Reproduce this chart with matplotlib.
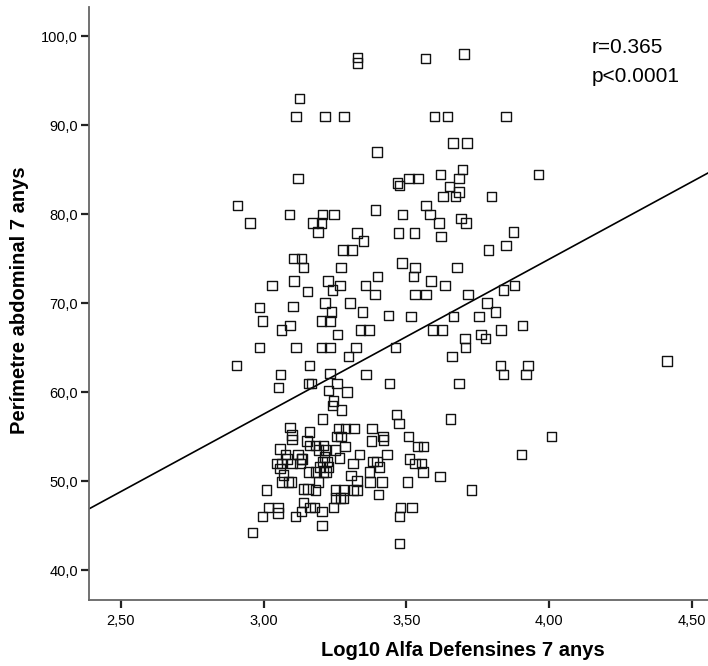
import matplotlib
matplotlib.use("Agg")
import matplotlib.pyplot as plt
import numpy as np
from matplotlib.ticker import FuncFormatter

plt.rcParams['font.family'] = ['Liberation Sans', 'DejaVu Sans']

# Data (Log10 alfa defensines vs waist perimeter)
upper_x = [3.329, 3.329, 3.567, 3.702, 3.125, 3.114, 3.215, 3.282, 3.599, 3.645,
           3.849, 3.664, 3.712, 3.397, 3.619, 3.696, 3.963, 3.121, 3.469, 3.476,
           3.509, 3.541, 3.684, 3.652, 3.684, 3.673, 3.628, 3.799, 2.908, 2.952,
           3.090, 3.206, 3.246, 3.173, 3.203, 3.191, 3.391, 3.487, 3.569, 3.583,
           3.614, 3.622, 3.327, 3.350, 3.472, 3.528, 3.692, 3.709, 3.875, 3.849,
           3.787, 3.278, 3.310, 3.107, 3.133, 3.140, 3.271, 3.485, 3.531, 3.677]
upper_y = [97.6, 97.0, 97.5, 98.0, 93.0, 91.0, 91.0, 91.0, 91.0, 91.0,
           91.0, 88.0, 88.0, 87.0, 84.5, 85.0, 84.5, 84.0, 83.5, 83.2,
           84.0, 84.0, 84.0, 83.1, 82.5, 82.0, 82.0, 82.0, 81.0, 79.0,
           80.0, 80.0, 80.0, 79.0, 79.0, 78.0, 80.5, 80.0, 81.0, 80.0,
           79.0, 77.5, 77.9, 77.0, 77.9, 77.9, 79.5, 79.0, 78.0, 76.5,
           76.0, 76.0, 76.0, 75.0, 75.0, 74.0, 74.0, 74.5, 74.0, 74.0]

mid_x = [3.029, 3.107, 3.153, 3.226, 3.241, 3.267, 3.399, 3.356, 3.390, 3.525,
         3.587, 3.636, 3.530, 3.569, 3.716, 3.782, 3.840, 3.878, 2.986, 2.996,
         3.062, 3.092, 3.103, 3.215, 3.237, 3.202, 3.233, 3.258, 3.302, 3.347,
         3.340, 3.369, 3.438, 3.516, 3.591, 3.627, 3.666, 3.755, 3.813, 3.906,
         3.832, 3.762, 3.778, 3.706, 3.708, 3.660, 3.829, 3.841, 3.927, 3.920,
         3.685, 4.413, 2.986, 3.114, 3.203, 3.233, 2.904, 3.059, 3.160, 3.052,
         3.157, 3.167, 3.233, 3.227, 3.245, 3.241, 3.206, 3.324, 3.298, 3.462,
         3.359, 3.441, 3.257, 3.292, 3.272, 3.465, 3.474, 3.655, 4.008, 3.904,
         3.618, 3.728]
mid_y = [72.0, 72.5, 71.3, 72.5, 71.5, 72.0, 73.0, 72.0, 71.0, 73.0,
         72.5, 72.0, 71.0, 71.0, 71.0, 70.0, 71.5, 72.0, 69.5, 68.0,
         67.0, 67.5, 69.6, 70.0, 69.0, 68.0, 68.0, 66.5, 70.0, 69.0,
         67.0, 67.0, 68.6, 68.5, 67.0, 67.0, 68.5, 68.5, 69.0, 67.5,
         67.0, 66.5, 66.0, 66.0, 65.0, 64.0, 63.0, 62.0, 63.0, 62.0,
         61.0, 63.5, 65.0, 65.0, 65.0, 65.0, 63.0, 62.0, 63.0, 60.5,
         61.0, 61.0, 62.1, 60.2, 59.0, 58.5, 57.0, 65.0, 64.0, 65.0,
         62.0, 61.0, 61.0, 60.0, 58.0, 57.5, 56.5, 57.0, 55.0, 53.0,
         50.5, 49.0]

low_x = [3.263, 3.286, 3.317, 3.380, 3.257, 3.271, 3.285, 3.378, 3.418, 3.420,
         3.508, 3.539, 3.560, 3.251, 3.266, 3.336, 3.313, 3.383, 3.397, 3.406,
         3.432, 3.511, 3.531, 3.554, 3.558, 3.306, 3.327, 3.371, 3.373, 3.414,
         3.505, 3.251, 3.280, 3.315, 3.327, 3.251, 3.269, 3.280, 3.245, 3.403,
         3.479, 3.520, 3.476, 3.476,
         3.092, 3.099, 3.099, 3.161, 3.152, 3.058, 3.076, 3.082, 3.120, 3.132,
         3.161, 3.181, 3.210, 3.192, 3.216, 3.214, 3.206, 3.222, 3.227, 3.210,
         3.219, 3.047, 3.062, 3.058, 3.070, 3.064, 3.087, 3.097, 3.099, 3.128,
         3.134, 3.157, 3.181, 3.198, 3.192, 3.010, 3.140, 3.155, 3.181, 3.017,
         3.050, 3.050, 2.996, 3.111, 3.140, 3.132, 3.163, 3.178, 3.204, 3.204,
         2.961]
low_y = [55.9, 55.9, 55.9, 55.9, 55.0, 55.0, 53.9, 54.5, 55.0, 54.6,
         55.0, 53.9, 53.9, 53.5, 52.6, 53.0, 52.0, 52.2, 52.2, 51.6,
         53.0, 52.5, 52.0, 52.0, 51.0, 50.6, 50.0, 51.0, 49.9, 49.9,
         49.9, 49.0, 49.0, 49.0, 49.0, 48.1, 48.1, 48.1, 47.0, 48.5,
         47.0, 47.0, 46.0, 43.0,
         56.0, 55.2, 54.7, 55.5, 54.5, 53.6, 53.0, 52.5, 53.0, 52.5,
         54.0, 54.0, 54.0, 53.5, 53.5, 52.7, 52.2, 52.2, 51.6, 51.0,
         51.0, 52.0, 52.0, 51.4, 50.7, 49.9, 49.9, 49.9, 52.0, 52.0,
         52.5, 51.0, 51.0, 51.6, 49.9, 49.0, 49.1, 49.1, 49.0, 47.0,
         47.0, 46.4, 46.0, 46.0, 47.6, 46.6, 47.0, 47.0, 46.6, 45.0,
         44.2]

# linear fit shown on the chart: y = a + b*x
fit_a = 5.30
fit_b = 17.41

x_ticks = [2.5, 3.0, 3.5, 4.0, 4.5]
y_ticks = [40, 50, 60, 70, 80, 90, 100]

x_all = np.array(upper_x + mid_x + low_x)
y_all = np.array(upper_y + mid_y + low_y)

fig = plt.figure(figsize=(7.08, 6.66), dpi=100)
ax = fig.add_axes([0.1257, 0.0991, 0.8743, 0.8904])

ax.scatter(x_all, y_all, marker='s', s=46, facecolors='none',
           edgecolors='#111111', linewidths=1.0, zorder=3)

ax.set_xlim(2.388, 4.557)
ax.set_ylim(36.63, 103.3)
fx = np.array(ax.get_xlim())
ax.plot(fx, fit_a + fit_b * fx, color='black', lw=1.2, zorder=2)

ax.set_xticks(x_ticks)
ax.set_yticks(y_ticks)
ax.xaxis.set_major_formatter(FuncFormatter(lambda v, p: f"{v:.2f}".replace('.', ',')))
ax.yaxis.set_major_formatter(FuncFormatter(lambda v, p: f"{v:.1f}".replace('.', ',')))
ax.tick_params(direction='out', length=6, width=1.6, color='#222222',
               labelsize=10.5)
ax.tick_params(axis='x', pad=4)
ax.tick_params(axis='y', pad=2)

for s in ['top', 'right']:
    ax.spines[s].set_visible(False)
for s in ['left', 'bottom']:
    ax.spines[s].set_color('#666666')
    ax.spines[s].set_linewidth(1.3)

ax.set_xlabel('Log10 Alfa Defensines 7 anys', fontsize=14.5, fontweight='bold')
ax.set_ylabel('Perímetre abdominal 7 anys', fontsize=14.5, fontweight='bold')
ax.xaxis.set_label_coords(0.604, -0.069)
ax.yaxis.set_label_coords(-0.097, 0.506)

ax.text(592 / 708, 1 - 53 / 666, 'r=0.365', transform=fig.transFigure,
        fontsize=15, va='baseline', ha='left')
ax.text(592 / 708, 1 - 82 / 666, 'p<0.0001', transform=fig.transFigure,
        fontsize=15, va='baseline', ha='left')

fig.savefig('out.png', dpi=100)
